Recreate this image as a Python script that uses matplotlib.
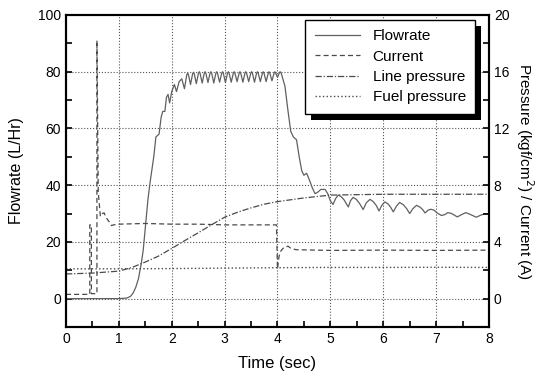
import matplotlib
matplotlib.use("Agg")
import matplotlib.pyplot as plt
from matplotlib.patches import Rectangle
from matplotlib.ticker import MultipleLocator

plt.rcParams['font.family'] = ['Liberation Sans', 'DejaVu Sans']

# Flowrate (L/Hr), left axis
flow_t = [0, 0.5, 1.0, 1.15, 1.22, 1.27, 1.32, 1.37, 1.42, 1.46, 1.5, 1.55, 1.59,
          1.63, 1.66, 1.7, 1.73, 1.76, 1.8, 1.83, 1.87, 1.9, 1.93, 1.96, 2.0,
          2.05, 2.09, 2.14, 2.19, 2.24,
          2.285, 2.30, 2.315, 2.355, 2.395, 2.41, 2.425, 2.465, 2.505, 2.52, 2.535,
          2.575, 2.615, 2.63, 2.645, 2.685, 2.725, 2.74, 2.755, 2.795, 2.835, 2.85,
          2.865, 2.905, 2.945, 2.96, 2.975, 3.015, 3.055, 3.07, 3.085, 3.125, 3.165,
          3.18, 3.195, 3.235, 3.275, 3.29, 3.305, 3.345, 3.385, 3.40, 3.415, 3.455,
          3.495, 3.51, 3.525, 3.565, 3.605, 3.62, 3.635, 3.675, 3.715, 3.73, 3.745,
          3.785, 3.825, 3.84, 3.855, 3.895, 3.935, 3.95, 3.965, 4.00, 4.035, 4.05,
          4.07,
          4.14, 4.2, 4.25, 4.3, 4.36, 4.41, 4.46, 4.5, 4.55, 4.6, 4.66, 4.71,
          4.76, 4.82, 4.9, 4.95, 5.0, 5.05, 5.1, 5.15, 5.2, 5.26, 5.34, 5.38,
          5.43, 5.49, 5.55, 5.62, 5.68, 5.75, 5.81, 5.87, 5.92, 5.97, 6.03, 6.09,
          6.14, 6.19, 6.25, 6.31, 6.38, 6.44, 6.5, 6.56, 6.63, 6.7, 6.75, 6.79,
          6.85, 6.9, 6.96, 7.02, 7.1, 7.16, 7.22, 7.28, 7.34, 7.4, 7.5, 7.56,
          7.62, 7.7, 7.76, 7.84, 7.92, 8.0]
flow_v = [0, 0, 0, 0.2, 0.8, 2, 4, 7, 12, 17, 25, 35, 41,
          46, 50, 57, 57.5, 58, 64, 66, 66, 71, 72, 69, 73,
          75.5, 73, 76.5, 77.5, 74,
          79.0, 79.5, 79.0, 75.5, 79.3, 79.8, 79.3, 75.8, 79.5, 80.0, 79.5,
          76.0, 79.5, 80.0, 79.5, 76.2, 79.5, 80.0, 79.5, 76.0, 79.5, 80.0,
          79.5, 76.3, 79.5, 80.0, 79.5, 76.2, 79.5, 80.0, 79.5, 76.3, 79.5,
          80.0, 79.5, 76.5, 79.5, 80.0, 79.5, 76.3, 79.5, 80.0, 79.5, 76.5,
          79.5, 80.0, 79.5, 76.3, 79.5, 80.0, 79.5, 76.5, 79.5, 80.0, 79.5,
          76.5, 79.5, 80.0, 79.5, 76.8, 79.5, 80.0, 79.5, 78.0, 79.6, 80.0,
          79.5,
          75, 66, 59, 57, 56, 50, 45, 43.5, 44.2, 42, 39, 37,
          37.5, 38.5, 38.5, 37, 34.5, 33.2, 35.3, 36.5, 36.0, 34.8, 32.3, 34.5,
          35.7, 35.0, 33.6, 31.4, 33.8, 35.0, 34.2, 32.8, 30.9, 32.8, 34.1, 33.4,
          32.2, 30.6, 32.6, 33.9, 33.1, 31.8, 30.0, 31.7, 32.9, 32.2, 31.3, 30.2,
          31.2, 31.5, 31.2, 30.2, 29.3, 29.6, 30.3, 30.1, 29.5, 28.8, 29.8, 30.3,
          29.9, 29.2, 28.7, 29.4, 29.9, 30]

# Current (A), right axis
cur_t = [0, 0.45, 0.45, 0.48, 0.48, 0.585, 0.585, 0.61, 0.65, 0.69, 0.72, 0.75,
         0.78, 0.82, 0.86, 0.9, 1.0, 1.5, 2.0, 2.5, 3.0, 3.5, 3.98, 4.0, 4.03,
         4.07, 4.12, 4.2, 4.25, 4.35, 5, 6, 7, 8]
cur_v = [0.3, 0.3, 5.2, 5.2, 0.35, 0.35, 18.2, 7.5, 5.8, 6.0, 6.05, 5.8,
         5.6, 5.4, 5.15, 5.2, 5.25, 5.3, 5.25, 5.25, 5.2, 5.2, 5.2, 2.1, 3.0,
         3.4, 3.6, 3.7, 3.55, 3.45, 3.4, 3.42, 3.4, 3.42]

# Line pressure (kgf/cm2), right axis
line_t = [0, 0.5, 1.0, 1.25, 1.5, 1.75, 2.0, 2.25, 2.5, 2.75, 3.0, 3.25, 3.5,
          3.75, 4.0, 4.5, 5.0, 6.0, 7.0, 8.0]
line_v = [1.74, 1.8, 1.94, 2.2, 2.58, 3.0, 3.54, 4.1, 4.64, 5.2, 5.74, 6.1, 6.4,
          6.66, 6.84, 7.1, 7.3, 7.36, 7.36, 7.36]

# Fuel pressure (kgf/cm2), right axis
fuel_t = [0, 1, 2, 3, 4, 5, 6, 7, 8]
fuel_v = [2.1, 2.1, 2.12, 2.15, 2.18, 2.2, 2.2, 2.21, 2.2]

fig = plt.figure(figsize=(5.37, 3.72), dpi=100)
ax = fig.add_axes([0.1229, 0.121, 0.7877, 0.8387])
ax2 = ax.twinx()

lc = '#4a4a4a'
h1, = ax.plot(flow_t, flow_v, '-', color='#606060', lw=0.9, label='Flowrate')
h2, = ax2.plot(cur_t, cur_v, '--', color=lc, lw=0.9, label='Current', dashes=(4, 2.5))
h3, = ax2.plot(line_t, line_v, '-.', color=lc, lw=0.9, label='Line pressure',
               dashes=(5, 1.5, 1, 1.5))
h4, = ax2.plot(fuel_t, fuel_v, ':', color=lc, lw=1.0, label='Fuel pressure')

ax.set_xlim(0, 8)
ax.set_ylim(-10, 100)
ax2.set_ylim(-2, 20)

ax.xaxis.set_major_locator(MultipleLocator(1))
ax.xaxis.set_minor_locator(MultipleLocator(0.5))
ax.yaxis.set_major_locator(MultipleLocator(20))
ax.yaxis.set_minor_locator(MultipleLocator(10))
ax2.yaxis.set_major_locator(MultipleLocator(4))
ax2.yaxis.set_minor_locator(MultipleLocator(2))

for a in (ax, ax2):
    a.tick_params(which='both', direction='in', labelsize=10, width=1.2)
    a.tick_params(which='major', length=4)
    a.tick_params(which='minor', length=4)
    for s in a.spines.values():
        s.set_linewidth(1.5)

ax.set_yticks([0, 20, 40, 60, 80, 100])
ax2.set_yticks([0, 4, 8, 12, 16, 20])

ax.grid(True, which='major', linestyle=':', color='#555555', lw=0.8)
# skip the top grid line
for gl in ax.get_ygridlines()[-1:]:
    gl.set_visible(False)

ax.set_xlabel('Time (sec)', fontsize=12, labelpad=7)
ax.set_ylabel('Flowrate (L/Hr)', fontsize=11.5)
ax.yaxis.set_label_coords(-0.100, 0.5)
ax2.set_ylabel('Pressure (kgf/cm$^2$) / Current (A)', fontsize=11,
               rotation=270, va='center')
ax2.yaxis.set_label_coords(1.085, 0.5)

leg = ax2.legend(handles=[h1, h2, h3, h4], loc='upper right', fontsize=11,
                 frameon=True, fancybox=False, edgecolor='black',
                 framealpha=1, handlelength=3.0, borderpad=0.6,
                 labelspacing=0.42, borderaxespad=0,
                 bbox_to_anchor=(0.967, 0.984))
leg.get_frame().set_linewidth(1.0)
leg.set_zorder(6)

fig.canvas.draw()
bb = leg.get_window_extent().transformed(fig.transFigure.inverted())
dx, dy = 6 / 537, 6 / 372
shadow = Rectangle((bb.x0 + dx, bb.y0 - dy), bb.width, bb.height,
                   transform=fig.transFigure, facecolor='black',
                   edgecolor='none', zorder=5.5)
ax2.add_patch(shadow)
shadow.set_clip_on(False)

fig.savefig('out.png', dpi=100)
